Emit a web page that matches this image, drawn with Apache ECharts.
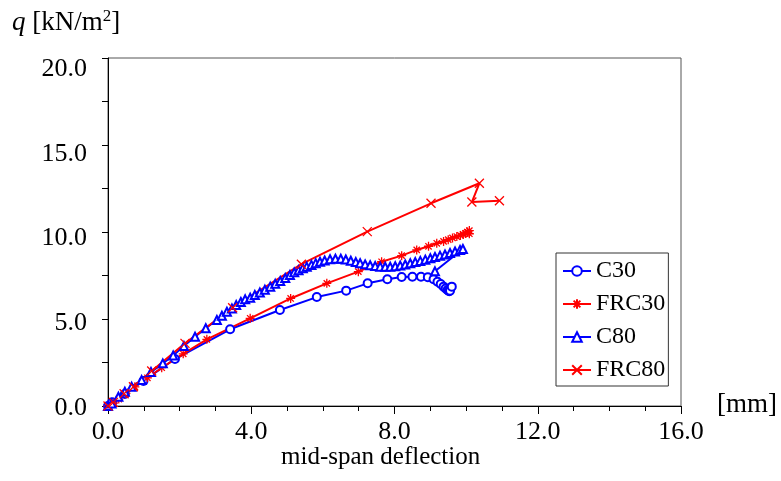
<!DOCTYPE html>
<html><head><meta charset="utf-8">
<script src="https://cdn.jsdelivr.net/npm/echarts@6/dist/echarts.min.js"></script>
<style>html,body{margin:0;padding:0;background:#fff}#c{width:781px;height:481px}</style>
</head><body><div id="c"></div>
<script>
// x tick labels / y tick labels
const xTicks = [0, 4, 8, 12, 16];
const yTicks = [0, 5, 10, 15, 20];
const seriesNames = ['C30', 'FRC30', 'C80', 'FRC80'];

// [deflection mm, q kN/m2]
const c30 = [[0,0],[0.12,0.21],[0.47,0.69],[0.99,1.44],[1.87,2.70],[3.41,4.41],[4.80,5.52],[5.83,6.26],[6.65,6.63],[7.25,7.05],[7.80,7.28],[8.20,7.41],[8.50,7.43],[8.74,7.43],[8.93,7.40],[9.09,7.28],[9.20,7.14],[9.29,7.01],[9.37,6.86],[9.43,6.76],[9.48,6.67],[9.51,6.62],[9.53,6.60],[9.55,6.62],[9.60,6.86]];
const frc30 = [[0,0],[0.15,0.16],[0.3,0.4],[0.5,0.72],[0.75,1.1],[1.1,1.62],[1.5,2.2],[2.1,3.0],[2.76,3.83],[3.97,5.04],[5.1,6.18],[6.11,7.05],[6.99,7.72],[7.64,8.29],[8.20,8.64],[8.62,8.97],[8.95,9.18],[9.18,9.35],[9.37,9.46],[9.50,9.56],[9.62,9.66],[9.74,9.74],[9.84,9.80],[9.92,9.86],[9.98,9.92],[10.04,9.98],[10.09,10.08],[10.03,10.0],[10.09,9.90]];
const c80 = [[0,0],[0.1,0.15],[0.29,0.53],[0.47,0.82],[0.66,1.11],[0.94,1.49],[1.2,1.95],[1.53,2.45],[1.82,2.9],[2.12,3.45],[2.43,3.98],[2.73,4.47],[3.04,4.94],[3.18,5.19],[3.32,5.42],[3.46,5.61],[3.58,5.80],[3.71,5.98],[3.83,6.13],[3.97,6.22],[4.10,6.38],[4.24,6.52],[4.38,6.68],[4.53,6.86],[4.67,7.02],[4.81,7.18],[4.95,7.36],[5.08,7.53],[5.20,7.68],[5.32,7.80],[5.44,7.92],[5.55,8.01],[5.68,8.11],[5.80,8.21],[5.92,8.29],[6.05,8.36],[6.20,8.43],[6.35,8.46],[6.50,8.46],[6.64,8.42],[6.78,8.35],[6.92,8.27],[7.04,8.20],[7.18,8.14],[7.32,8.09],[7.46,8.04],[7.60,8.01],[7.74,8.00],[7.88,8.00],[8.02,8.03],[8.16,8.07],[8.30,8.13],[8.44,8.20],[8.58,8.27],[8.72,8.34],[8.86,8.41],[9.00,8.49],[9.13,8.56],[9.27,8.64],[9.41,8.71],[9.55,8.79],[9.69,8.88],[9.83,8.97],[9.91,9.02],[9.13,7.74]];
const frc80 = [[0,0],[0.15,0.21],[0.45,0.7],[0.71,1.11],[1.22,2.01],[2.15,3.6],[3.48,5.65],[5.40,8.15],[7.24,10.02],[9.02,11.65],[10.37,12.80],[10.16,11.72],[10.93,11.80]];

const BLUE = '#0000ff', RED = '#ff0000';
const FONT = 'Liberation Serif';
const asterisk = 'path://M0,5L10,5M5,0L5,10M1.5,1.5L8.5,8.5M8.5,1.5L1.5,8.5';
const cross = 'path://M0,0L10,10M10,0L0,10';

// y labels in the source sit progressively lower toward the top of the axis
const yRich = {};
yTicks.forEach((v, i) => { yRich['y' + i] = {fontFamily: FONT, fontSize: 26, color: '#000', padding: [Math.round(4 + v * 0.9), 0, 0, 0]}; });

const chart = echarts.init(document.getElementById('c'), null, {renderer: 'canvas'});
function mk(name, data, color, symbol, size) {
  return {
    name, type: 'line', data, symbol, symbolSize: size,
    lineStyle: {color, width: 2},
    itemStyle: {color, borderColor: color, borderWidth: 1.3},
    emphasis: {disabled: true}
  };
}
chart.setOption({
  animation: false,
  grid: {left: 108, right: 100, top: 58, bottom: 75, show: true, borderColor: '#555', borderWidth: 1},
  xAxis: {
    type: 'value', min: xTicks[0], max: xTicks[xTicks.length - 1], interval: 4,
    axisLine: {lineStyle: {color: '#000', width: 1}},
    axisTick: {inside: false, length: 8, lineStyle: {color: '#000'}},
    minorTick: {show: true, splitNumber: 4, length: 5, lineStyle: {color: '#000'}},
    splitLine: {show: false},
    axisLabel: {color: '#000', fontFamily: FONT, fontSize: 26, margin: 13, formatter: v => v.toFixed(1)}
  },
  yAxis: {
    type: 'value', min: yTicks[0], max: yTicks[yTicks.length - 1], interval: 5,
    axisLine: {show: true, lineStyle: {color: '#000', width: 1}},
    axisTick: {show: true, inside: false, length: 6, lineStyle: {color: '#000'}},
    minorTick: {show: true, splitNumber: 2, length: 6, lineStyle: {color: '#000'}},
    splitLine: {show: false},
    axisLabel: {margin: 21, formatter: v => '{y' + yTicks.indexOf(v) + '|' + v.toFixed(1) + '}', rich: yRich}
  },
  legend: {
    orient: 'vertical', left: 556, top: 253,
    backgroundColor: '#fff', borderColor: '#333', borderWidth: 1,
    padding: [6, 3, 4, 6], itemGap: 9, itemWidth: 28, itemHeight: 12,
    textStyle: {color: '#000', fontFamily: FONT, fontSize: 24},
    data: seriesNames
  },
  graphic: [
    {type: 'text', left: 12, top: 8, style: {
      text: '{i|q} [kN/m{s|2}]', fill: '#000', font: '27px "Liberation Serif"',
      rich: {i: {fontStyle: 'italic', fontFamily: FONT, fontSize: 27}, s: {fontFamily: FONT, fontSize: 17, verticalAlign: 'top', padding: [0,0,12,0]}}
    }},
    {type: 'text', left: 717, top: 391, style: {text: '[mm]', fill: '#000', font: '27px "Liberation Serif"'}},
    {type: 'text', left: 281, top: 445, style: {text: 'mid-span deflection', fill: '#000', font: '25px "Liberation Serif"'}}
  ],
  series: [
    mk('C30', c30, BLUE, 'emptyCircle', 8),
    mk('FRC30', frc30, RED, asterisk, 9),
    mk('C80', c80, BLUE, 'emptyTriangle', 8),
    mk('FRC80', frc80, RED, cross, 9)
  ]
});
</script></body></html>
